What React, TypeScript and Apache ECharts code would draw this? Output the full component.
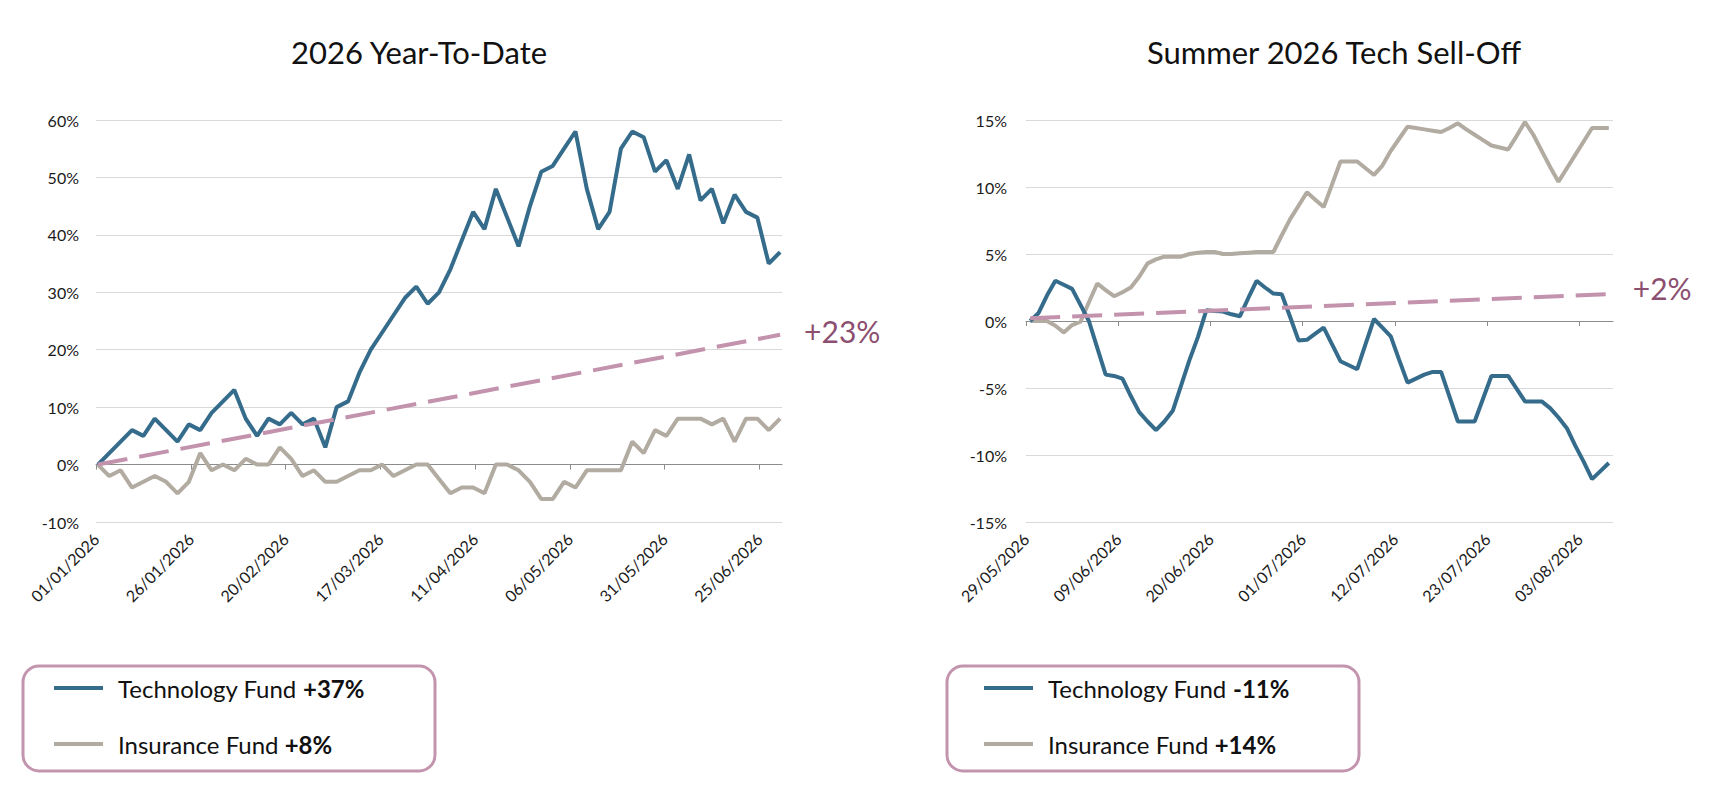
import React, { useEffect, useRef } from 'react';
import * as echarts from 'echarts';

// ---------- Data ----------
const titles = ['2026 Year-To-Date', 'Summer 2026 Tech Sell-Off'];

// Year-to-date panel (one point every 3 days from 01/01/2026)
const ytdTickDays = [0, 25, 50, 75, 100, 125, 150, 175];
const ytdTickLabels = ['01/01/2026', '26/01/2026', '20/02/2026', '17/03/2026', '11/04/2026', '06/05/2026', '31/05/2026', '25/06/2026'];
const ytdSpanDays = 181;
const ytdStepDays = 3;
const ytdTech = [
  0, 2, 4, 6, 5, 8, 6, 4, 7, 6,
  9, 11, 13, 8, 5, 8, 7, 9, 7, 8,
  3, 10, 11, 16, 20, 23, 26, 29, 31, 28,
  30, 34, 39, 44, 41, 48, 43, 38, 45, 51,
  52, 55, 58, 48, 41, 44, 55, 58, 57, 51,
  53, 48, 54, 46, 48, 42, 47, 44, 43, 35,
  37,
];
const ytdInsurance = [
  0, -2, -1, -4, -3, -2, -3, -5, -3, 2,
  -1, 0, -1, 1, 0, 0, 3, 1, -2, -1,
  -3, -3, -2, -1, -1, 0, -2, -1, 0, 0,
  -2.5, -5, -4, -4, -5, 0, 0, -1, -3, -6,
  -6, -3, -4, -1, -1, -1, -1, 4, 2, 6,
  5, 8, 8, 8, 7, 8, 4, 8, 8, 6,
  8,
];
const ytdTrend = [0, 22.6];
const ytdTrendLabel = '+23%';
const ytdLegend = ['Technology Fund +37%', 'Insurance Fund +8%'];

// Summer sell-off panel (daily from 29/05/2026)
const summerTickDays = [0, 11, 22, 33, 44, 55, 66];
const summerTickLabels = ['29/05/2026', '09/06/2026', '20/06/2026', '01/07/2026', '12/07/2026', '23/07/2026', '03/08/2026'];
const summerSpanDays = 70;
const summerStepDays = 1;
const summerTech = [
  0, 0.6, 1.9, 3.0, 2.7, 2.4, 1.2, 0, -2.0, -4.0,
  -4.1, -4.3, -5.6, -6.8, -7.5, -8.15, -7.5, -6.7, -4.8, -2.9,
  -1.2, 0.8, 0.75, 0.7, 0.5, 0.35, 1.7, 3.0, 2.5, 2.05,
  2.0, 0.3, -1.45, -1.4, -0.95, -0.5, -1.75, -3.0, -3.3, -3.6,
  -1.7, 0.15, -0.5, -1.15, -2.9, -4.6, -4.3, -4.0, -3.8, -3.8,
  -5.65, -7.5, -7.5, -7.5, -5.8, -4.1, -4.1, -4.1, -5.05, -6.0,
  -6.0, -6.0, -6.5, -7.2, -8.0, -9.3, -10.5, -11.8, -11.2, -10.6,
];
const summerInsurance = [
  0, 0, 0, -0.35, -0.85, -0.3, -0.05, 1.4, 2.8, 2.3,
  1.85, 2.15, 2.5, 3.3, 4.3, 4.6, 4.8, 4.8, 4.8, 5.0,
  5.1, 5.15, 5.15, 5.0, 5.0, 5.05, 5.1, 5.15, 5.15, 5.15,
  6.4, 7.6, 8.6, 9.6, 9.05, 8.5, 10.2, 11.9, 11.9, 11.9,
  11.4, 10.9, 11.6, 12.7, 13.6, 14.5, 14.4, 14.3, 14.2, 14.1,
  14.4, 14.75, 14.3, 13.9, 13.5, 13.1, 12.95, 12.8, 13.8, 14.85,
  13.9, 12.7, 11.5, 10.4, 11.4, 12.4, 13.4, 14.4, 14.4, 14.4,
];
const summerTrend = [0.2, 2.0];
const summerTrendLabel = '+2%';
const summerLegend = ['Technology Fund -11%', 'Insurance Fund +14%'];

// ---------- Styles ----------
const BLUE = '#356c8c';
const GREY = '#b1aba1';
const TREND = '#c393ad';
const TREND_TEXT = '#8c4f70';
const BORDER = '#c394ae';
const FONT = 'Lato, "Noto Sans", sans-serif';
const LINE_W = 4;

// points sit in the middle of their day slot
const toPairs = (vals: number[], step: number) => vals.map((v, i) => [i * step + 0.5, v]);
const trendPairs = (n: number, step: number, t: number[]) => [
  [0.5, t[0]],
  [(n - 1) * step + 0.5, t[1]],
];

function labelFormatter(days: number[], labels: string[]) {
  return (v: number) => {
    const i = days.indexOf(Math.round(v));
    return i >= 0 ? labels[i] : '';
  };
}

function xAxes(grid: number, span: number, days: number[], labels: string[]) {
  return [
    {
      gridIndex: grid,
      type: 'value',
      min: 0,
      max: span,
      position: 'bottom',
      axisLine: { show: false, onZero: false },
      axisTick: { show: false },
      splitLine: { show: false },
      axisLabel: {
        customValues: days,
        rotate: 45,
        margin: 14,
        fontSize: 16,
        fontFamily: FONT,
        color: '#1a1a1a',
        formatter: labelFormatter(days, labels),
      },
    },
    {
      gridIndex: grid,
      type: 'value',
      min: 0,
      max: span,
      position: 'bottom',
      axisLine: { show: true, onZero: true, lineStyle: { color: '#8c8c8c', width: 1 } },
      axisTick: { show: true, customValues: days, length: 5, lineStyle: { color: '#8c8c8c' } },
      splitLine: { show: false },
      axisLabel: { show: false },
    },
  ];
}

function yAxis(grid: number, min: number, max: number, interval: number, margin: number) {
  return {
    gridIndex: grid,
    type: 'value',
    min,
    max,
    interval,
    axisLine: { show: false },
    axisTick: { show: false },
    splitLine: { lineStyle: { color: '#d9d9d9', width: 1 } },
    axisLabel: {
      formatter: '{value}%',
      fontSize: 16,
      fontFamily: FONT,
      color: '#1a1a1a',
      margin,
    },
  };
}

function fundSeries(name: string, color: string, vals: number[], step: number, xIdx: number, yIdx: number, z: number) {
  return {
    name,
    type: 'line',
    xAxisIndex: xIdx,
    yAxisIndex: yIdx,
    data: toPairs(vals, step),
    symbol: 'none',
    showSymbol: false,
    lineStyle: { color, width: LINE_W },
    itemStyle: { color },
    z,
  };
}

function trendSeries(name: string, pairs: number[][], label: string, xIdx: number, yIdx: number, offsetY: number) {
  return {
    name,
    type: 'line',
    xAxisIndex: xIdx,
    yAxisIndex: yIdx,
    data: pairs,
    symbol: 'none',
    showSymbol: false,
    lineStyle: { color: TREND, width: LINE_W, type: [30, 12] },
    itemStyle: { color: TREND },
    z: 5,
    endLabel: {
      show: true,
      formatter: label,
      color: TREND_TEXT,
      fontSize: 30,
      fontFamily: FONT,
      distance: 24,
      offset: [0, offsetY],
    },
  };
}

function legend(data: string[], left: number) {
  return {
    data,
    orient: 'vertical',
    left,
    top: 665,
    padding: 0,
    icon: 'rect',
    itemWidth: 49,
    itemHeight: 4,
    itemGap: 26,
    selectedMode: false,
    itemStyle: { borderWidth: 0 },
    formatter: (name: string) => {
      const i = name.lastIndexOf(' ');
      return `{a|${name.slice(0, i)}} {b|${name.slice(i + 1)}}`;
    },
    textStyle: {
      fontSize: 24,
      lineHeight: 30,
      fontFamily: FONT,
      color: '#111',
      rich: {
        a: { fontSize: 24, lineHeight: 30, fontFamily: FONT, color: '#111', padding: [0, 0, 0, 10] },
        b: { fontSize: 24, lineHeight: 30, fontFamily: FONT, color: '#111', fontWeight: 'bold' },
      },
    },
  };
}

export default function App() {
  const ref = useRef<HTMLDivElement>(null);

  useEffect(() => {
    if (!ref.current) return;
    const chart = echarts.init(ref.current, undefined, { renderer: 'svg' });

    const option = {
      animation: false,
      backgroundColor: '#ffffff',
      grid: [
        { left: 88, top: 112, width: 686, height: 402 },
        { left: 1018, top: 112, width: 587, height: 402 },
      ],
      xAxis: [
        ...xAxes(0, ytdSpanDays, ytdTickDays, ytdTickLabels),
        ...xAxes(1, summerSpanDays, summerTickDays, summerTickLabels),
      ],
      yAxis: [yAxis(0, -10, 60, 10, 17), yAxis(1, -15, 15, 5, 19)],
      legend: [legend(ytdLegend, 46), legend(summerLegend, 976)],
      series: [
        fundSeries(ytdLegend[1], GREY, ytdInsurance, ytdStepDays, 0, 0, 2),
        fundSeries(ytdLegend[0], BLUE, ytdTech, ytdStepDays, 0, 0, 3),
        trendSeries('YTD trend', trendPairs(ytdTech.length, ytdStepDays, ytdTrend), ytdTrendLabel, 0, 0, -4),
        fundSeries(summerLegend[1], GREY, summerInsurance, summerStepDays, 2, 1, 2),
        fundSeries(summerLegend[0], BLUE, summerTech, summerStepDays, 2, 1, 3),
        trendSeries('Summer trend', trendPairs(summerTech.length, summerStepDays, summerTrend), summerTrendLabel, 2, 1, -6),
      ],
      graphic: [
        {
          type: 'text',
          x: 411,
          y: 44,
          style: { text: titles[0], fontSize: 31, fontFamily: FONT, fill: '#111', align: 'center', verticalAlign: 'middle' },
        },
        {
          type: 'text',
          x: 1326,
          y: 44,
          style: { text: titles[1], fontSize: 31, fontFamily: FONT, fill: '#111', align: 'center', verticalAlign: 'middle' },
        },
        {
          type: 'rect',
          shape: { x: 15, y: 658, width: 412, height: 105, r: 16 },
          style: { fill: 'none', stroke: BORDER, lineWidth: 3 },
          z: -1,
        },
        {
          type: 'rect',
          shape: { x: 939, y: 658, width: 412, height: 105, r: 16 },
          style: { fill: 'none', stroke: BORDER, lineWidth: 3 },
          z: -1,
        },
      ],
    };

    chart.setOption(option as any);
    return () => chart.dispose();
  }, []);

  return <div ref={ref} style={{ width: 1696, height: 776 }} />;
}
